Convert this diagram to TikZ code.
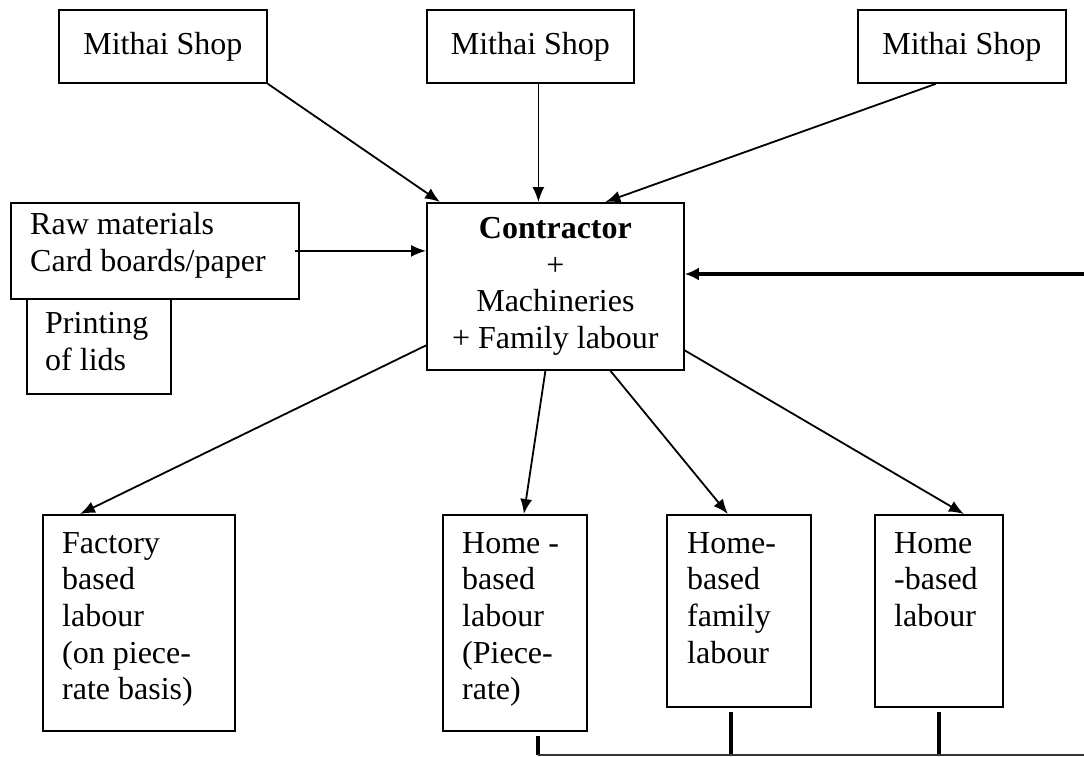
\documentclass[tikz,border=0pt]{standalone}
\usepackage{fontspec}
\setmainfont{Liberation Serif}
\usetikzlibrary{arrows.meta, positioning, calc}
\tikzset{
  bigfont/.style={font=\fontsize{32pt}{36.7pt}\selectfont},
  frame/.style={draw=black,line width=1.8pt,inner sep=0pt,anchor=north west},
  shop/.style={frame,bigfont},
  body/.style={bigfont,align=left,inner sep=0pt,anchor=north west},
  relation/.style={line width=1.8pt,-{Latex[length=15pt,width=12pt]}},
  relationxl/.style={relation,line width=3.2pt,-{Latex[length=14pt,width=13pt]}},
  tie/.style={line width=3.2pt},
  tiebase/.style={line width=1.6pt,black!80},
}

\begin{document}
\begin{tikzpicture}[x=1pt,y=-1pt]
	\useasboundingbox (0,0) rectangle (1084,756);
	% suppliers on top
	\node[shop,minimum width=208pt,minimum height=73pt] (S1) at (58,9) {Mithai Shop};
	\node[shop,minimum width=207pt,minimum height=73pt] (S2) at (426,9) {Mithai Shop};
	\node[shop,minimum width=208pt,minimum height=73pt] (S3) at (857,9) {Mithai Shop};
	% inputs
	\node[frame,minimum width=288pt,minimum height=96pt] (R) at (10,202) {};
	\node[body] (Rt) at ([shift={(20pt,-10pt)}]R.north west) {Raw materials\\Card boards/paper};
	\node[frame,minimum width=144pt,minimum height=95pt] (P) at (26,298) {};
	\node[body] (Pt) at ([shift={(19pt,-14pt)}]P.north west) {Printing\\of lids};
	\node[shop,align=center,minimum width=257pt,minimum height=167pt] (C) at (426,202) {\textbf{Contractor}\\+\\Machineries\\+ Family labour};
	% labour
	\node[frame,minimum width=192pt,minimum height=216pt] (F) at (42,514) {};
	\node[body] (Ft) at ([shift={(20pt,-18pt)}]F.north west) {Factory\\based\\labour\\(on piece-\\rate basis)};
	\node[frame,minimum width=144pt,minimum height=216pt] (H1) at (442,514) {};
	\node[body] (H1t) at ([shift={(20pt,-18pt)}]H1.north west) {Home -\\based\\labour\\(Piece-\\rate)};
	\node[frame,minimum width=144pt,minimum height=192pt] (H2) at (666,514) {};
	\node[body] (H2t) at ([shift={(21pt,-18pt)}]H2.north west) {Home-\\based\\family\\labour};
	\node[frame,minimum width=128pt,minimum height=192pt] (H3) at (874,514) {};
	\node[body] (H3t) at ([shift={(20pt,-18pt)}]H3.north west) {Home\\-based\\labour};
	\coordinate (in) at (1084,274);
	\coordinate (bus) at (1084,755);
	% flows into the contractor
	\draw[relation] (S1.south east) -- ([xshift=14pt]C.north west);
	\draw[relation] ([xshift=8pt]S2.south) -- ([xshift=8pt]S2.south |- C.north);
	\draw[relation] ([xshift=-26pt]S3.south) -- ([xshift=50pt]C.north);
	\draw[relation] ([xshift=-5pt]R.east) -- (R.east -| C.west);
	\draw[relationxl] (in) -- (in -| C.east);
	% flows out to labour
	\draw[relation] ([yshift=-59pt]C.west) -- ([xshift=38pt]F.north west);
	\draw[relation] ([xshift=-10pt]C.south) -- ([xshift=9pt]H1.north);
	\draw[relation] ([xshift=55pt]C.south) -- ([xshift=-11pt]H2.north);
	\draw[relation] ([yshift=-64pt]C.east) -- ([xshift=25pt]H3.north);
	% bottom link
	\draw[tie] ([xshift=23pt,yshift=-4pt]H1.south) -- ([xshift=23pt]H1.south |- bus);
	\draw[tie] ([xshift=-8pt,yshift=-4pt]H2.south) -- ([xshift=-8pt]H2.south |- bus);
	\draw[tie] ([yshift=-4pt]H3.south) -- (H3.south |- bus);
	\draw[tiebase] ([xshift=23pt]H1.south |- bus) -- (bus);
\end{tikzpicture}
\end{document}
